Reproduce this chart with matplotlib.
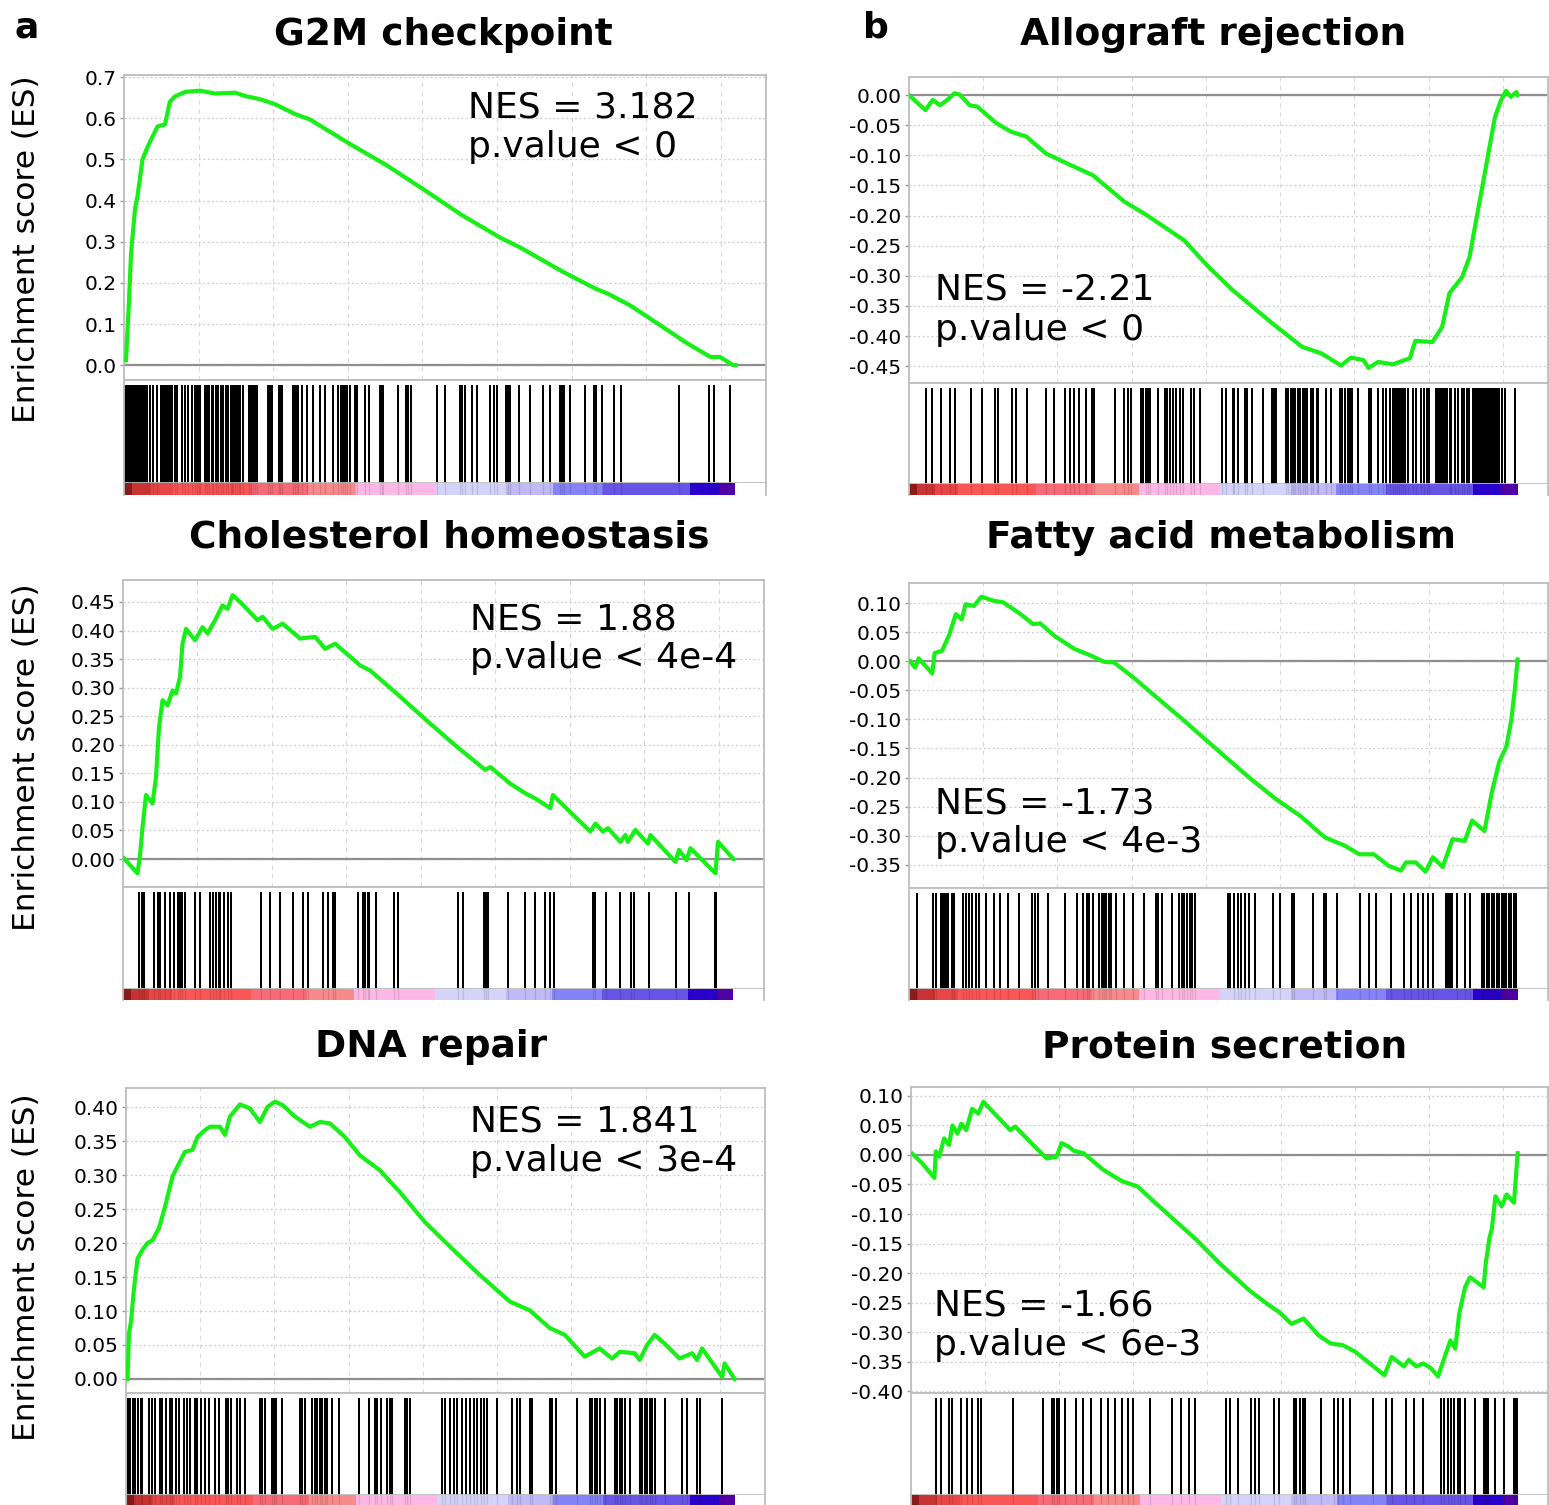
import matplotlib
matplotlib.use('Agg')
import matplotlib.pyplot as plt

plt.rcParams['font.family'] = ['DejaVu Sans']
plt.rcParams['axes.unicode_minus'] = False

# ---------------- data (x = position in ranked gene list, % of list) ----------------
titles = ["G2M checkpoint", "Allograft rejection", "Cholesterol homeostasis",
          "Fatty acid metabolism", "DNA repair", "Protein secretion"]
nes_labels = ["NES = 3.182", "NES = -2.21", "NES = 1.88", "NES = -1.73", "NES = 1.841", "NES = -1.66"]
pval_labels = ["p.value < 0", "p.value < 0", "p.value < 4e-4", "p.value < 4e-3", "p.value < 3e-4", "p.value < 6e-3"]

g2m_x = [0.33, 0.82, 1.15, 1.8, 2.2, 3.03, 3.85, 4.66, 5.48, 6.7, 7.5, 8.35, 10, 12.4, 14.9, 18.2, 19.8, 22.3,
         24.7, 28, 30.4, 37, 42.7, 48.9, 55, 61.5, 64.8, 71.4, 77.1, 79.1, 82.8, 87.7, 91.8, 95.9, 97.5, 99.6, 100]
g2m_es = [0.012, 0.157, 0.27, 0.38, 0.41, 0.50, 0.53, 0.555, 0.58, 0.585, 0.64, 0.653, 0.664, 0.667, 0.66, 0.662,
          0.654, 0.646, 0.634, 0.61, 0.597, 0.537, 0.488, 0.428, 0.367, 0.31, 0.286, 0.23, 0.186, 0.174, 0.145,
          0.097, 0.056, 0.02, 0.02, 0.0, 0.0]
g2m_blocks = [(0.05, 3.98), (5.9, 8.07)]
g2m_hits = [4.3, 4.8, 5.35, 8.35, 8.73, 9.44, 9.98, 10.53, 11.07, 11.62, 12.0, 12.2, 12.44, 13.26, 13.64, 13.97,
            14.35, 14.62, 15.06, 15.44, 15.82, 16.26, 16.69, 17.08, 17.46, 17.62, 17.78, 18.17, 18.55, 18.77,
            18.99, 19.42, 20.52, 20.79, 21.06, 21.44, 21.82, 23.62, 23.9, 24.17, 25.3, 25.55, 25.8, 27.7, 28.0,
            28.3, 28.53, 29.07, 30.0, 30.99, 32.08, 32.9, 34.26, 35.08, 35.46, 35.79, 36.17, 36.55, 36.99, 37.81,
            38.08, 39.45, 40.0, 41.9, 42.12, 42.33, 44.75, 46.1, 46.5, 46.9, 51.17, 52.54, 55.0, 55.27, 55.81,
            56.9, 57.72, 59.9, 60.56, 61.0, 62.5, 62.8, 63.17, 64.54, 66.45, 68.53, 69.72, 71.36, 71.63, 71.9,
            72.89, 75.45, 76.82, 77.2, 78.19, 80.1, 81.3, 90.74, 95.65, 96.47, 99.04]

allo_x = [0, 2.7, 3.9, 5.1, 6.3, 7.5, 8.3, 10, 11.2, 14.4, 16.8, 19.3, 22.5, 26.5, 30.2, 35.4, 38.7, 42.7, 45.2,
          49.2, 53.2, 59.7, 64.6, 67.8, 71.0, 72.6, 74.7, 75.5, 77.1, 79.5, 82.3, 83.2, 86.0, 87.6, 88.8, 90.9,
          92.1, 93.3, 94.5, 95.3, 96.3, 97.3, 98.1, 98.9, 99.8, 100]
allo_es = [0, -0.025, -0.008, -0.017, -0.008, 0.003, 0.001, -0.017, -0.019, -0.047, -0.061, -0.069, -0.097,
           -0.116, -0.133, -0.177, -0.197, -0.224, -0.241, -0.285, -0.324, -0.379, -0.418, -0.429, -0.449,
           -0.436, -0.44, -0.453, -0.443, -0.447, -0.437, -0.408, -0.41, -0.385, -0.329, -0.302, -0.269,
           -0.202, -0.136, -0.091, -0.036, -0.008, 0.007, -0.003, 0.005, 0.0]
allo_blocks = [(37.88, 38.58), (59.52, 60.43), (86.51, 88.62), (92.5, 97.08)]
allo_hits = [2.85, 3.70, 5.32, 6.73, 7.64, 10.18, 12.01, 14.13, 14.62, 16.95, 17.65, 19.41, 22.59, 23.78, 25.69,
             26.39, 27.17, 28.01, 29.07, 29.99, 30.48, 33.86, 35.27, 35.91, 36.47, 38.94, 39.29, 39.64, 40.91,
             42.11, 42.46, 42.81, 43.31, 43.87, 44.57, 45.0, 46.33, 46.9, 47.82, 51.41, 52.04, 53.17, 53.45,
             54.09, 55.15, 55.5, 56.34, 58.18, 61.98, 62.33, 62.76, 63.04, 63.46, 63.96, 64.31, 64.66, 65.01,
             65.37, 66.07, 66.42, 66.99, 67.27, 68.54, 69.38, 70.79, 71.21, 71.71, 72.06, 72.41, 72.77, 73.82,
             75.59, 75.94, 77.0, 77.84, 78.41, 78.97, 79.46, 79.81, 80.17, 80.52, 80.87, 81.22, 81.58, 81.93,
             82.77, 83.34, 84.18, 84.61, 85.1, 85.45, 88.83, 89.12, 89.68, 90.25, 90.95, 91.23, 91.66, 92.01,
             97.43, 98.0, 99.55]

chol_x = [0.16, 2.38, 2.79, 3.2, 3.77, 4.84, 5.41, 5.9, 6.48, 7.3, 8.11, 8.69, 9.34, 9.75, 10.33, 11.8, 13.03,
          13.85, 15.08, 16.31, 17.13, 17.95, 19.18, 22.05, 22.87, 24.51, 26.15, 29.02, 31.48, 33.11, 34.75,
          38.85, 40.49, 44.59, 50.33, 54.43, 59.34, 60.16, 63.44, 65.9, 67.54, 70.0, 70.41, 76.56, 77.38,
          78.61, 79.43, 81.48, 82.3, 82.7, 83.93, 85.98, 86.39, 90.49, 91.07, 92.3, 92.95, 97.05, 97.46, 100]
chol_es = [0.001, -0.025, 0.007, 0.056, 0.112, 0.097, 0.144, 0.231, 0.278, 0.269, 0.295, 0.29, 0.319, 0.377,
           0.403, 0.383, 0.406, 0.395, 0.418, 0.444, 0.438, 0.462, 0.45, 0.418, 0.424, 0.403, 0.412, 0.386,
           0.389, 0.368, 0.377, 0.339, 0.33, 0.292, 0.237, 0.199, 0.156, 0.161, 0.132, 0.115, 0.106, 0.089,
           0.112, 0.048, 0.062, 0.048, 0.054, 0.03, 0.042, 0.03, 0.051, 0.027, 0.042, -0.005, 0.016, -0.002,
           0.019, -0.025, 0.03, 0.0]
chol_blocks = []
chol_hits = [2.62, 3.11, 3.44, 5.08, 5.66, 6.07, 6.89, 7.7, 8.36, 8.93, 9.34, 9.67, 10.16, 11.8, 12.62, 14.26,
             14.67, 15.25, 15.66, 15.9, 16.56, 17.13, 17.7, 22.62, 24.1, 25.74, 27.79, 29.43, 30.25, 32.7,
             33.52, 34.34, 34.75, 38.44, 39.26, 39.67, 40.08, 40.33, 41.48, 44.43, 45.0, 54.84, 55.66, 59.18,
             59.51, 59.75, 63.03, 65.9, 67.54, 69.18, 70.0, 70.66, 76.97, 77.38, 79.18, 81.48, 83.28, 83.77,
             86.23, 90.66, 92.7, 97.05, 97.21]

fatty_x = [0.2, 1.0, 1.56, 3.82, 4.22, 5.43, 6.63, 7.69, 8.65, 9.31, 10.67, 11.89, 13.9, 15.52, 18.34, 20.35,
           21.56, 23.97, 27.21, 30.03, 32.05, 33.66, 36.88, 40.11, 44.96, 48.98, 53.02, 56.24, 60.28, 64.3,
           68.34, 71.56, 73.99, 76.4, 78.82, 80.84, 81.64, 83.27, 84.88, 86.08, 87.7, 89.31, 91.33, 92.53,
           94.55, 95.76, 96.96, 98.18, 98.98, 99.55, 100]
fatty_es = [0.0, -0.011, 0.005, -0.021, 0.014, 0.018, 0.046, 0.081, 0.072, 0.098, 0.095, 0.111, 0.104, 0.101,
            0.081, 0.064, 0.065, 0.043, 0.021, 0.009, -0.001, -0.002, -0.028, -0.057, -0.1, -0.137, -0.174,
            -0.203, -0.237, -0.266, -0.303, -0.317, -0.332, -0.332, -0.352, -0.36, -0.346, -0.346, -0.362,
            -0.337, -0.354, -0.306, -0.309, -0.274, -0.292, -0.226, -0.174, -0.146, -0.1, -0.048, 0.003]
fatty_blocks = [(5.03, 6.64), (52.21, 52.86), (88.1, 89.31)]
fatty_hits = [1.24, 3.98, 4.47, 7.05, 7.45, 8.82, 9.3, 9.87, 10.43, 11.08, 11.48, 12.69, 13.9, 14.95, 16.32,
              18.1, 20.19, 20.76, 21.16, 22.77, 25.6, 27.61, 28.66, 29.23, 29.63, 30.27, 31.24, 31.65, 32.05,
              32.45, 32.86, 33.26, 34.07, 35.28, 36.73, 38.66, 40.52, 40.92, 41.57, 43.18, 44.31, 44.79, 45.11,
              45.6, 46.16, 46.57, 46.97, 53.42, 53.99, 54.63, 55.28, 55.84, 56.89, 59.87, 60.92, 62.86, 63.34,
              66.33, 68.18, 68.5, 70.36, 74.15, 75.6, 76.81, 79.23, 81.41, 82.45, 83.66, 84.47, 85.28, 86.08,
              90.12, 91.33, 92.13, 94.15, 94.55, 94.96, 95.36, 95.76, 96.17, 96.57, 96.97, 97.38, 97.78, 98.18,
              98.58, 98.99, 99.39, 99.8]

dna_x = [0.25, 0.49, 0.82, 1.31, 1.89, 2.71, 3.53, 4.35, 5.42, 6.4, 7.64, 8.87, 9.69, 10.92, 11.74, 12.97,
         13.79, 15.44, 16.26, 17.08, 18.72, 20.36, 22.0, 23.23, 24.47, 25.7, 27.75, 30.21, 31.86, 33.5, 35.96,
         38.42, 41.71, 44.99, 49.1, 53.2, 58.13, 63.05, 66.34, 69.62, 72.09, 75.37, 77.83, 79.88, 81.12, 83.58,
         84.4, 85.63, 86.86, 88.51, 90.97, 93.02, 93.84, 94.66, 97.95, 98.36, 100]
dna_es = [0.0, 0.067, 0.084, 0.133, 0.177, 0.19, 0.2, 0.204, 0.222, 0.253, 0.298, 0.32, 0.334, 0.337, 0.356,
          0.366, 0.371, 0.371, 0.359, 0.386, 0.404, 0.398, 0.378, 0.4, 0.408, 0.403, 0.386, 0.371, 0.378, 0.376,
          0.356, 0.329, 0.307, 0.275, 0.231, 0.195, 0.153, 0.114, 0.101, 0.075, 0.065, 0.033, 0.045, 0.03, 0.04,
          0.038, 0.028, 0.05, 0.065, 0.052, 0.03, 0.038, 0.028, 0.045, 0.003, 0.023, 0.0]
dna_blocks = []
dna_hits = [0.25, 0.66, 1.07, 1.48, 1.89, 2.46, 2.71, 3.78, 4.35, 4.76, 5.58, 5.99, 6.57, 7.22, 7.63, 8.21, 8.7,
            9.52, 10.1, 10.51, 11.33, 11.74, 12.31, 12.97, 13.63, 14.61, 15.27, 16.42, 16.75, 17.24, 18.31,
            18.72, 19.54, 22.0, 22.41, 22.82, 24.06, 24.3, 24.63, 25.7, 28.57, 28.98, 29.39, 30.62, 31.03,
            31.44, 31.85, 32.26, 32.68, 33.09, 33.91, 34.97, 38.26, 39.9, 40.88, 41.3, 41.87, 42.94, 43.35,
            43.76, 45.81, 46.22, 46.63, 51.97, 52.38, 53.2, 53.86, 54.43, 55.25, 55.83, 56.48, 57.14, 57.72,
            58.29, 58.78, 59.36, 61.0, 63.46, 64.28, 64.69, 66.34, 66.75, 69.62, 70.03, 70.61, 74.14, 76.19,
            76.6, 77.01, 77.42, 77.83, 78.65, 80.29, 80.7, 81.11, 81.52, 81.94, 82.76, 84.4, 84.81, 85.22,
            85.63, 86.04, 86.45, 86.86, 88.5, 91.38, 92.2, 93.84, 94.25, 97.95]

prot_x = [0.23, 1.84, 3.85, 4.09, 4.66, 5.46, 6.27, 6.83, 7.65, 8.29, 9.1, 10.07, 11.12, 11.92, 16.37, 17.17,
          21.2, 22.4, 24.0, 24.82, 26.02, 26.83, 28.44, 30.05, 31.66, 34.88, 37.3, 39.72, 42.96, 46.99, 51.02,
          55.86, 59.08, 60.69, 62.71, 64.72, 67.14, 69.15, 71.17, 73.19, 76.0, 78.03, 79.23, 81.25, 82.06,
          83.27, 84.47, 85.69, 86.89, 87.7, 88.91, 89.72, 90.36, 91.33, 92.14, 92.95, 94.39, 94.72, 95.36,
          95.76, 96.33, 97.37, 98.18, 99.39, 100]
prot_es = [0.002, -0.014, -0.039, 0.006, -0.003, 0.028, 0.017, 0.05, 0.036, 0.053, 0.042, 0.078, 0.07, 0.09,
           0.042, 0.048, 0.006, -0.006, -0.003, 0.02, 0.014, 0.007, 0.003, -0.011, -0.025, -0.045, -0.053,
           -0.076, -0.106, -0.143, -0.185, -0.23, -0.255, -0.266, -0.286, -0.277, -0.305, -0.319, -0.322,
           -0.333, -0.356, -0.373, -0.342, -0.358, -0.347, -0.358, -0.353, -0.361, -0.375, -0.35, -0.314,
           -0.328, -0.269, -0.224, -0.207, -0.213, -0.224, -0.185, -0.14, -0.124, -0.07, -0.087, -0.067,
           -0.081, 0.003]
prot_blocks = []
prot_hits = [4.09, 4.89, 6.26, 6.83, 8.28, 9.25, 10.05, 11.1, 11.5, 16.74, 21.82, 23.27, 23.6, 24.0, 24.4,
             25.37, 27.23, 28.43, 29.64, 31.26, 32.47, 33.67, 34.72, 35.69, 36.66, 39.32, 42.95, 44.56, 45.77,
             46.74, 51.98, 52.62, 53.83, 56.01, 56.65, 57.3, 59.88, 60.68, 63.1, 63.5, 64.07, 64.55, 64.87,
             67.54, 69.71, 70.36, 71.16, 72.37, 76.16, 78.26, 79.23, 81.64, 82.85, 84.47, 87.29, 87.93, 88.5,
             89.06, 89.54, 90.11, 90.51, 91.32, 92.93, 94.38, 94.7, 95.19, 96.32, 97.77, 99.38, 99.62, 99.86]

# ranked-list metric colour bar: segment edges (% of list) and colours
cbar_edges = [0, 1.3, 4.3, 8.0, 20.9, 30.1, 37.8, 51.1, 62.7, 70.2, 78.4, 92.6, 97.5, 100]
cbar_colors = ['#8b1a1a', '#c83434', '#e84646', '#fa5656', '#f86a78', '#f88a8a', '#ffb8e6',
               '#d4d4fa', '#c2baf8', '#8484f8', '#6655e6', '#2a00cc', '#5200aa']

yticks_list = [[0.0, 0.1, 0.2, 0.3, 0.4, 0.5, 0.6, 0.7],
               [0.0, -0.05, -0.10, -0.15, -0.20, -0.25, -0.30, -0.35, -0.40, -0.45],
               [0.0, 0.05, 0.10, 0.15, 0.20, 0.25, 0.30, 0.35, 0.40, 0.45],
               [0.10, 0.05, 0.0, -0.05, -0.10, -0.15, -0.20, -0.25, -0.30, -0.35],
               [0.0, 0.05, 0.10, 0.15, 0.20, 0.25, 0.30, 0.35, 0.40],
               [0.10, 0.05, 0.0, -0.05, -0.10, -0.15, -0.20, -0.25, -0.30, -0.35, -0.40]]
ylims = [(-0.036, 0.705), (-0.478, 0.03), (-0.049, 0.4885), (-0.39, 0.1345), (-0.0206, 0.428), (-0.403, 0.115)]
fmts = ['%.1f', '%.2f', '%.2f', '%.2f', '%.2f', '%.2f']
grid_x = [12.2, 24.4, 36.6, 48.8, 61.0, 73.2, 85.4, 97.6]

curves = [(g2m_x, g2m_es), (allo_x, allo_es), (chol_x, chol_es),
          (fatty_x, fatty_es), (dna_x, dna_es), (prot_x, prot_es)]
hits_all = [g2m_hits, allo_hits, chol_hits, fatty_hits, dna_hits, prot_hits]
blocks_all = [g2m_blocks, allo_blocks, chol_blocks, fatty_blocks, dna_blocks, prot_blocks]

# ---------------- layout (pixels) ----------------
W, H = 1549, 1505
# left, right, es_top, es_bottom, hits_bottom, cbar_bottom
geoms = [(124, 766, 75, 380, 483, 495), (909, 1548, 77, 383, 484, 495),
         (123, 764, 580, 887, 989, 1000), (909, 1548, 583, 888, 989, 1000),
         (126, 765, 1088, 1393, 1495, 1505), (911, 1548, 1087, 1393, 1495, 1505)]
title_pos = [(443, 45), (1213, 45), (449, 548), (1221, 548), (431, 1057), (1225, 1057)]
nes_pos = [(468, 117, 157), (935, 300, 340), (470, 629, 668), (935, 813, 852), (470, 1132, 1171), (934, 1315, 1355)]
ylab_pos = [(27, 249), (27, 757), (27, 1267)]
XMAX = 105.0
GREEN = '#17f017'
SPINE = '#bdbdbd'

fig = plt.figure(figsize=(W / 100, H / 100), dpi=100)


def fx(x):
    return x / W


def fy(y):
    return 1 - y / H


for i in range(6):
    l, r, t, eb, hb, cb = geoms[i]
    # ES axes
    ax = fig.add_axes([fx(l), fy(eb), (r - l) / W, (eb - t) / H])
    ax.set_xlim(0, XMAX)
    ax.set_ylim(*ylims[i])
    ax.set_xticks(grid_x)
    ax.set_yticks(yticks_list[i])
    ax.set_yticklabels([fmts[i] % v if abs(v) > 1e-9 else fmts[i] % 0.0 for v in yticks_list[i]])
    ax.tick_params(axis='x', length=0, labelbottom=False)
    ax.tick_params(axis='y', length=3, width=1, color='#999999', labelsize=14.5, pad=2.5)
    ax.grid(True, axis='x', ls=(0, (4, 4)), color='#d9d9d9', lw=0.8)
    ax.grid(True, axis='y', ls=(0, (1.5, 2.0)), color='#cccccc', lw=0.9)
    ax.set_axisbelow(True)
    for s in ax.spines.values():
        s.set_color(SPINE)
        s.set_linewidth(1.3)
    ax.axhline(0, color='#8f8f8f', lw=1.6, zorder=2)
    x, es = curves[i]
    ax.plot(x, es, color=GREEN, lw=3.0, zorder=3, solid_joinstyle='round')

    # hits axes
    hx = fig.add_axes([fx(l), fy(hb), (r - l) / W, (hb - eb) / H])
    hx.set_xlim(0, XMAX)
    hx.set_ylim(0, 1)
    top = (hb - (eb + 5)) / (hb - eb)
    hx.vlines(hits_all[i], 0, top, color='black', lw=1.4, antialiased=False)
    for (a0, a1) in blocks_all[i]:
        hx.axvspan(a0, a1, ymin=0, ymax=top, color='black', lw=0)
    hx.set_xticks([])
    hx.set_yticks([])
    for s in hx.spines.values():
        s.set_color(SPINE)
        s.set_linewidth(1.3)

    # colour bar axes
    cx = fig.add_axes([fx(l), fy(cb), (r - l) / W, (cb - hb) / H])
    cx.set_xlim(0, XMAX)
    cx.set_ylim(0, 1)
    for k in range(len(cbar_colors)):
        cx.axvspan(cbar_edges[k], cbar_edges[k + 1], color=cbar_colors[k], lw=0)
    cx.vlines(hits_all[i], 0, 1, color='black', lw=1.0, alpha=0.12)
    cx.set_xticks([])
    cx.set_yticks([])
    for name, s in cx.spines.items():
        s.set_color(SPINE)
        s.set_linewidth(1.3)
    cx.spines['bottom'].set_visible(False)
    cx.spines['top'].set_visible(False)

    # texts
    tx, ty = title_pos[i]
    fig.text(fx(tx), fy(ty), titles[i], ha='center', va='baseline', fontsize=27, fontweight='bold')
    nx, n1, n2 = nes_pos[i]
    fig.text(fx(nx), fy(n1), nes_labels[i], ha='left', va='baseline', fontsize=26)
    fig.text(fx(nx), fy(n2), pval_labels[i], ha='left', va='baseline', fontsize=26)

for (lx, ly) in ylab_pos:
    fig.text(fx(lx), fy(ly), "Enrichment score (ES)", rotation=90, ha='center', va='center', fontsize=22.5)

fig.text(fx(14), fy(37), "a", ha='left', va='baseline', fontsize=26, fontweight='bold')
fig.text(fx(863), fy(38), "b", ha='left', va='baseline', fontsize=26, fontweight='bold')

fig.savefig('out.png', dpi=100, facecolor='white')
